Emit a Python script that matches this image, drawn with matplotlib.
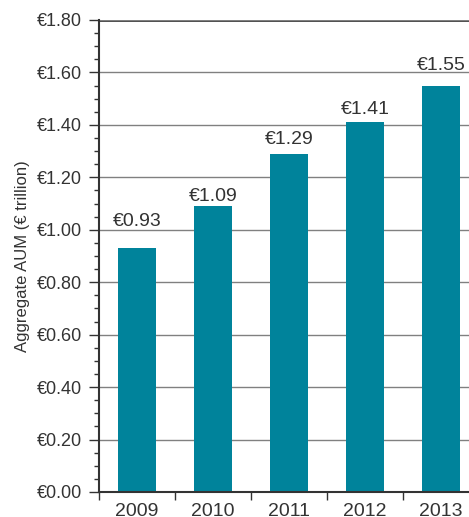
import matplotlib
matplotlib.use("Agg")
import matplotlib.pyplot as plt
from matplotlib.ticker import MultipleLocator, FixedLocator

years = ["2009", "2010", "2011", "2012", "2013"]
aum = [0.93, 1.09, 1.29, 1.41, 1.55]
labels = ["€0.93", "€1.09", "€1.29", "€1.41", "€1.55"]
yticks = [0.0, 0.2, 0.4, 0.6, 0.8, 1.0, 1.2, 1.4, 1.6, 1.8]
label_gap_pt = [16, 3.6, 7.2, 5.8, 11.5]

W, H = 469, 517
fig = plt.figure(figsize=(W / 100, H / 100), dpi=100)
plt.rcParams['font.family'] = ['Liberation Sans', 'DejaVu Sans']
left, right, top, bottom = 99, 469, 20, 492
ax = fig.add_axes([left / W, 1 - bottom / H, (right - left) / W, (bottom - top) / H])

txt = "#333333"
bar_color = "#00839b"
x = list(range(len(years)))
ax.bar(x, aum, width=0.5, color=bar_color, zorder=3)
for xi, v, lab, g in zip(x, aum, labels, label_gap_pt):
    ax.annotate(lab, (xi, v), xytext=(0, g), textcoords="offset points",
                ha="center", va="baseline", fontsize=14, color=txt)

ax.set_ylim(0, 1.8)
ax.set_xlim(-0.5, -0.5 + (right - left) / 76)
ax.set_yticks(yticks)
ax.set_yticklabels(["€%.2f" % t for t in yticks], fontsize=13, color=txt)
ax.yaxis.set_minor_locator(MultipleLocator(0.05))
ax.grid(axis="y", which="major", color="#808080", linewidth=1.0, zorder=0)
ax.axhline(1.8, color="#333333", linewidth=2, zorder=1)

ax.set_xticks(x)
ax.set_xticklabels(years, fontsize=14, color=txt)
ax.tick_params(axis="x", which="major", length=0, pad=8)
ax.xaxis.set_minor_locator(FixedLocator([i - 0.5 for i in range(len(years) + 1)]))
ax.tick_params(axis="x", which="minor", length=6, width=1, color="#333333", direction="out")
ax.tick_params(axis="y", which="major", length=7, width=1, color="#333333", pad=5)
ax.tick_params(axis="y", which="minor", length=3.5, width=1, color="#333333")

for s in ["top", "right"]:
    ax.spines[s].set_visible(False)
for s in ["left", "bottom"]:
    ax.spines[s].set_color("#333333")
    ax.spines[s].set_linewidth(1.5)
    ax.spines[s].set_zorder(4)

ax.set_ylabel("Aggregate AUM (€ trillion)", fontsize=12, color=txt, labelpad=5)

fig.savefig("out.png", dpi=100)
